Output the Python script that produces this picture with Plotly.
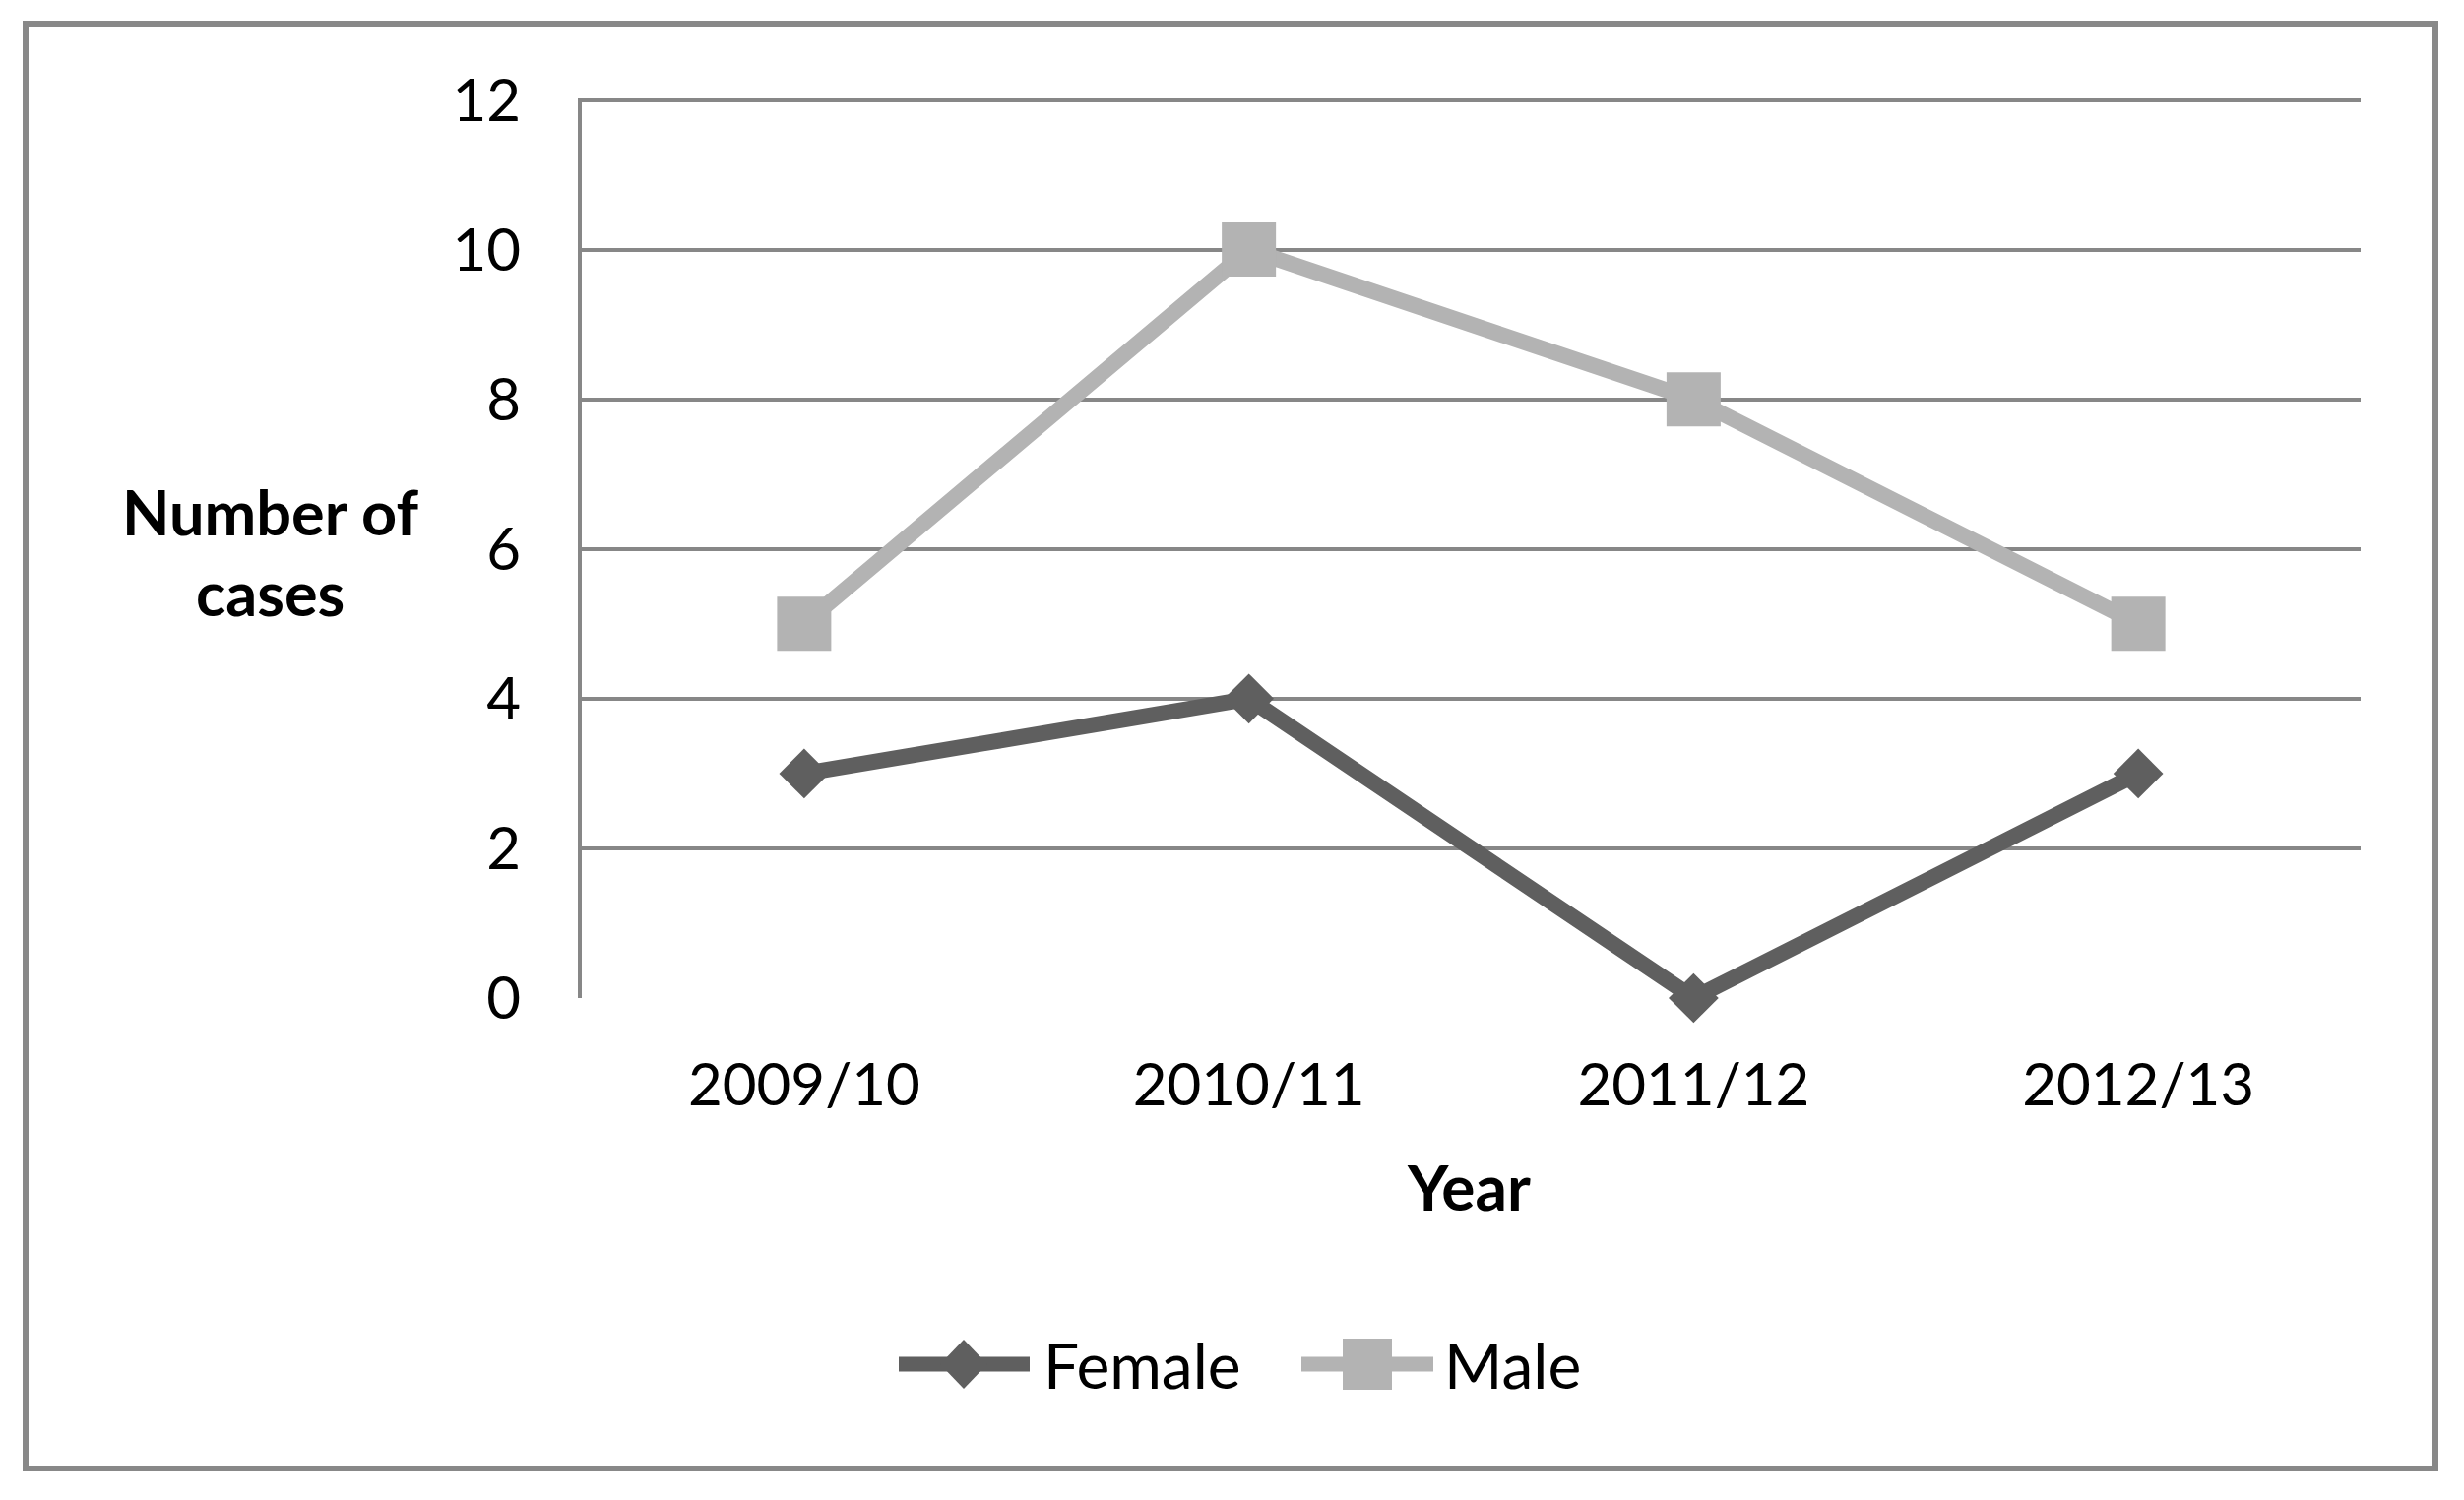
import plotly.graph_objects as go

years = ["2009/10", "2010/11", "2011/12", "2012/13"]
female = [3, 4, 0, 3]
male = [5, 10, 8, 5]
y_ticks = [0, 2, 4, 6, 8, 10, 12]

W, H = 2503, 1524
L, R, T, B = 591, 2398, 100, 1014
PW, PH = R - L, B - T

def px(x):
    return (x - L) / PW

def py(y):
    return (B - y) / PH

FEM_C = "#5f5f5f"
MAL_C = "#b3b3b3"
GRID_C = "#878787"
FONT = "Lato"

fig = go.Figure()
fig.add_trace(go.Scatter(x=years, y=female, mode="lines+markers", name="Female",
                         line=dict(color=FEM_C, width=16),
                         marker=dict(symbol="diamond", size=39, color=FEM_C),
                         cliponaxis=False, showlegend=False))
fig.add_trace(go.Scatter(x=years, y=male, mode="lines+markers", name="Male",
                         line=dict(color=MAL_C, width=16),
                         marker=dict(symbol="square", size=55, color=MAL_C),
                         cliponaxis=False, showlegend=False))

fig.update_layout(
    width=W, height=H,
    margin=dict(l=L, r=W - R, t=T, b=H - B, pad=0),
    paper_bgcolor="white", plot_bgcolor="white",
    font=dict(family=FONT, color="black", size=60),
    showlegend=False,
)
fig.update_xaxes(type="category", range=[-0.5, 3.5], showgrid=False,
                 showline=False, zeroline=False, ticks="",
                 tickfont=dict(size=60, family=FONT), ticklabelstandoff=48)
fig.update_yaxes(range=[0, 12.02], tickvals=y_ticks, showgrid=True,
                 gridcolor=GRID_C, gridwidth=4, zeroline=False,
                 showline=True, linecolor=GRID_C, linewidth=4, ticks="",
                 tickfont=dict(size=60, family=FONT), ticklabelstandoff=46)

# Outer border
fig.add_shape(type="rect", xref="paper", yref="paper",
              x0=px(26), x1=px(2474), y0=py(1492), y1=py(24),
              line=dict(color="#888888", width=6), fillcolor="rgba(0,0,0,0)")

# Axis titles
fig.add_annotation(text="<b>Number of<br>cases</b>", xref="paper", yref="paper",
                   x=px(275), y=py(560), xanchor="center", yanchor="middle",
                   showarrow=False, font=dict(size=63, family=FONT), align="center")
fig.add_annotation(text="<b>Year</b>", xref="paper", yref="paper",
                   x=px(1492), y=py(1205), xanchor="center", yanchor="middle",
                   showarrow=False, font=dict(size=64, family=FONT))

# Custom legend
ly = py(1386)
fig.add_shape(type="line", xref="paper", yref="paper", x0=px(913), x1=px(1046),
              y0=ly, y1=ly, line=dict(color=FEM_C, width=15))
dx, dy = 24 / PW, 25 / PH
cx = px(979)
fig.add_shape(type="path", xref="paper", yref="paper",
              path=f"M {cx-dx},{ly} L {cx},{ly+dy} L {cx+dx},{ly} L {cx},{ly-dy} Z",
              fillcolor=FEM_C, line=dict(width=0))
fig.add_annotation(text="Female", xref="paper", yref="paper", x=px(1058), y=ly,
                   xanchor="left", yanchor="middle", showarrow=False,
                   font=dict(size=64, family=FONT))
fig.add_shape(type="line", xref="paper", yref="paper", x0=px(1322), x1=px(1456),
              y0=ly, y1=ly, line=dict(color=MAL_C, width=15))
sx, sy = 25 / PW, 26 / PH
cx2 = px(1389)
fig.add_shape(type="rect", xref="paper", yref="paper",
              x0=cx2 - sx, x1=cx2 + sx, y0=ly - sy, y1=ly + sy,
              fillcolor=MAL_C, line=dict(width=0))
fig.add_annotation(text="Male", xref="paper", yref="paper", x=px(1465), y=ly,
                   xanchor="left", yanchor="middle", showarrow=False,
                   font=dict(size=64, family=FONT))

fig.write_html("out.html", config={"displayModeBar": False})
with open("out.html", "r", encoding="utf-8") as f:
    html = f.read()
html = html.replace("<body>", '<body style="margin:0;padding:0;overflow:hidden">', 1)
with open("out.html", "w", encoding="utf-8") as f:
    f.write(html)
